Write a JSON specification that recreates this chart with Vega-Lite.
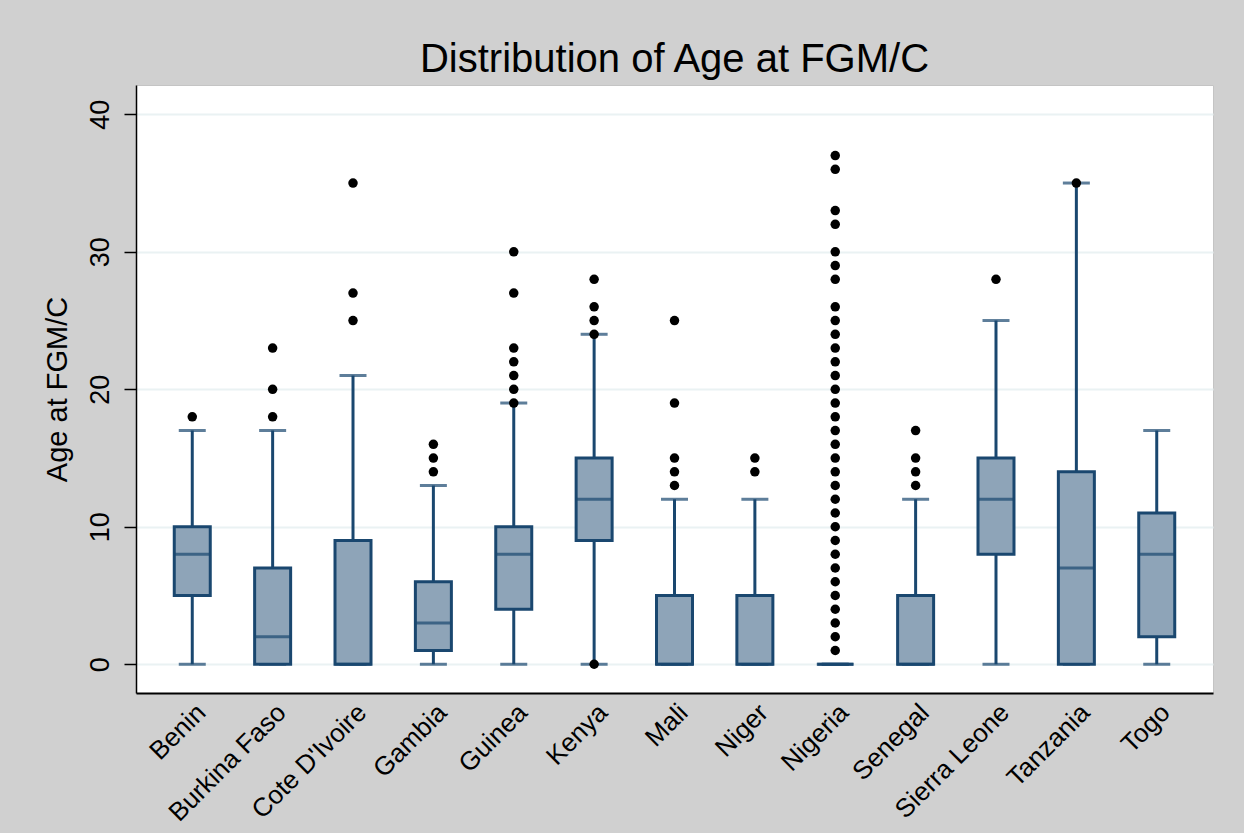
{
  "$schema": "https://vega.github.io/schema/vega-lite/v6.json",
  "width": 1077,
  "height": 608,
  "autosize": {"type": "none"},
  "padding": {"left": 136, "top": 85, "right": 31, "bottom": 140},
  "background": "#d0d0d0",
  "config": {
    "view": {"fill": "white", "stroke": "#c4c4c4", "strokeWidth": 1},
    "font": "Liberation Sans"
  },
  "title": {
    "text": "Distribution of Age at FGM/C",
    "fontSize": 40,
    "font": "Liberation Sans",
    "fontWeight": "normal",
    "color": "#000000",
    "offset": 5,
    "anchor": "middle"
  },
  "datasets": {
    "boxes": [
      {"country": "Benin", "lo": 0, "q1": 5, "med": 8, "q3": 10, "hi": 17},
      {"country": "Burkina Faso", "lo": 0, "q1": 0, "med": 2, "q3": 7, "hi": 17},
      {"country": "Cote D'Ivoire", "lo": 0, "q1": 0, "med": 0, "q3": 9, "hi": 21},
      {"country": "Gambia", "lo": 0, "q1": 1, "med": 3, "q3": 6, "hi": 13},
      {"country": "Guinea", "lo": 0, "q1": 4, "med": 8, "q3": 10, "hi": 19},
      {"country": "Kenya", "lo": 0, "q1": 9, "med": 12, "q3": 15, "hi": 24},
      {"country": "Mali", "lo": 0, "q1": 0, "med": 0, "q3": 5, "hi": 12},
      {"country": "Niger", "lo": 0, "q1": 0, "med": 0, "q3": 5, "hi": 12},
      {"country": "Nigeria", "lo": 0, "q1": 0, "med": 0, "q3": 0, "hi": 0},
      {"country": "Senegal", "lo": 0, "q1": 0, "med": 0, "q3": 5, "hi": 12},
      {"country": "Sierra Leone", "lo": 0, "q1": 8, "med": 12, "q3": 15, "hi": 25},
      {"country": "Tanzania", "lo": 0, "q1": 0, "med": 7, "q3": 14, "hi": 35},
      {"country": "Togo", "lo": 0, "q1": 2, "med": 8, "q3": 11, "hi": 17}
    ],
    "outliers": [
      {"country": "Benin", "age": 18},
      {"country": "Burkina Faso", "age": 18},
      {"country": "Burkina Faso", "age": 20},
      {"country": "Burkina Faso", "age": 23},
      {"country": "Cote D'Ivoire", "age": 25},
      {"country": "Cote D'Ivoire", "age": 27},
      {"country": "Cote D'Ivoire", "age": 35},
      {"country": "Gambia", "age": 14},
      {"country": "Gambia", "age": 15},
      {"country": "Gambia", "age": 16},
      {"country": "Guinea", "age": 19},
      {"country": "Guinea", "age": 20},
      {"country": "Guinea", "age": 21},
      {"country": "Guinea", "age": 22},
      {"country": "Guinea", "age": 23},
      {"country": "Guinea", "age": 27},
      {"country": "Guinea", "age": 30},
      {"country": "Kenya", "age": 0},
      {"country": "Kenya", "age": 24},
      {"country": "Kenya", "age": 25},
      {"country": "Kenya", "age": 26},
      {"country": "Kenya", "age": 28},
      {"country": "Mali", "age": 13},
      {"country": "Mali", "age": 14},
      {"country": "Mali", "age": 15},
      {"country": "Mali", "age": 19},
      {"country": "Mali", "age": 25},
      {"country": "Niger", "age": 14},
      {"country": "Niger", "age": 15},
      {"country": "Nigeria", "age": 1},
      {"country": "Nigeria", "age": 2},
      {"country": "Nigeria", "age": 3},
      {"country": "Nigeria", "age": 4},
      {"country": "Nigeria", "age": 5},
      {"country": "Nigeria", "age": 6},
      {"country": "Nigeria", "age": 7},
      {"country": "Nigeria", "age": 8},
      {"country": "Nigeria", "age": 9},
      {"country": "Nigeria", "age": 10},
      {"country": "Nigeria", "age": 11},
      {"country": "Nigeria", "age": 12},
      {"country": "Nigeria", "age": 13},
      {"country": "Nigeria", "age": 14},
      {"country": "Nigeria", "age": 15},
      {"country": "Nigeria", "age": 16},
      {"country": "Nigeria", "age": 17},
      {"country": "Nigeria", "age": 18},
      {"country": "Nigeria", "age": 19},
      {"country": "Nigeria", "age": 20},
      {"country": "Nigeria", "age": 21},
      {"country": "Nigeria", "age": 22},
      {"country": "Nigeria", "age": 23},
      {"country": "Nigeria", "age": 24},
      {"country": "Nigeria", "age": 25},
      {"country": "Nigeria", "age": 26},
      {"country": "Nigeria", "age": 28},
      {"country": "Nigeria", "age": 29},
      {"country": "Nigeria", "age": 30},
      {"country": "Nigeria", "age": 32},
      {"country": "Nigeria", "age": 33},
      {"country": "Nigeria", "age": 36},
      {"country": "Nigeria", "age": 37},
      {"country": "Senegal", "age": 13},
      {"country": "Senegal", "age": 14},
      {"country": "Senegal", "age": 15},
      {"country": "Senegal", "age": 17},
      {"country": "Sierra Leone", "age": 28},
      {"country": "Tanzania", "age": 35}
    ]
  },
  "encoding": {
    "x": {
      "field": "country",
      "type": "nominal",
      "sort": null,
      "scale": {"type": "band", "paddingInner": 0, "paddingOuter": 0.2},
      "axis": {
        "title": null,
        "ticks": false,
        "labelAngle": -45,
        "labelAlign": "right",
        "labelBaseline": "top",
        "labelPadding": 6,
        "labelFontSize": 26,
        "labelColor": "#000000",
        "labelFont": "Liberation Sans",
        "domainColor": "#000000",
        "domainWidth": 2,
        "grid": false
      }
    }
  },
  "layer": [
    {
      "data": {"name": "boxes"},
      "mark": {"type": "rule", "color": "#1a476f", "strokeWidth": 3},
      "encoding": {
        "y": {
          "field": "lo",
          "type": "quantitative",
          "title": "Age at FGM/C",
          "scale": {"domain": [-2.09, 42.13], "nice": false, "zero": false},
          "axis": {
            "values": [0, 10, 20, 30, 40],
            "labelAngle": -90,
            "labelAlign": "center",
            "labelBaseline": "bottom",
            "labelFontSize": 27,
            "labelColor": "#000000",
            "labelPadding": 10,
            "labelFont": "Liberation Sans",
            "tickSize": 12,
            "tickColor": "#000000",
            "tickWidth": 1.5,
            "domainColor": "#000000",
            "domainWidth": 1.5,
            "grid": true,
            "gridColor": "#eaf2f3",
            "gridWidth": 2,
            "titleFontSize": 29,
            "titleFont": "Liberation Sans",
            "titleFontWeight": "normal",
            "titleColor": "#000000",
            "titlePadding": 14
          }
        },
        "y2": {"field": "q1"}
      }
    },
    {
      "data": {"name": "boxes"},
      "mark": {"type": "rule", "color": "#1a476f", "strokeWidth": 3},
      "encoding": {
        "y": {"field": "q3", "type": "quantitative", "title": "Age at FGM/C"},
        "y2": {"field": "hi"}
      }
    },
    {
      "data": {"name": "boxes"},
      "mark": {"type": "tick", "color": "#1a476f", "size": 27, "thickness": 3},
      "encoding": {
        "y": {"field": "hi", "type": "quantitative", "title": "Age at FGM/C"}
      }
    },
    {
      "data": {"name": "boxes"},
      "mark": {"type": "tick", "color": "#1a476f", "size": 27, "thickness": 3},
      "encoding": {
        "y": {"field": "lo", "type": "quantitative", "title": "Age at FGM/C"}
      }
    },
    {
      "data": {"name": "boxes"},
      "mark": {"type": "bar", "size": 36, "fill": "#8ea4b8", "stroke": "#1a476f", "strokeWidth": 3},
      "encoding": {
        "y": {"field": "q1", "type": "quantitative", "title": "Age at FGM/C"},
        "y2": {"field": "q3"}
      }
    },
    {
      "data": {"name": "boxes"},
      "mark": {"type": "tick", "color": "#1a476f", "size": 37, "thickness": 3},
      "encoding": {
        "y": {"field": "med", "type": "quantitative", "title": "Age at FGM/C"}
      }
    },
    {
      "data": {"name": "outliers"},
      "mark": {"type": "point", "shape": "circle", "filled": true, "color": "#000000", "size": 90, "opacity": 1},
      "encoding": {
        "y": {"field": "age", "type": "quantitative", "title": "Age at FGM/C"}
      }
    }
  ]
}
